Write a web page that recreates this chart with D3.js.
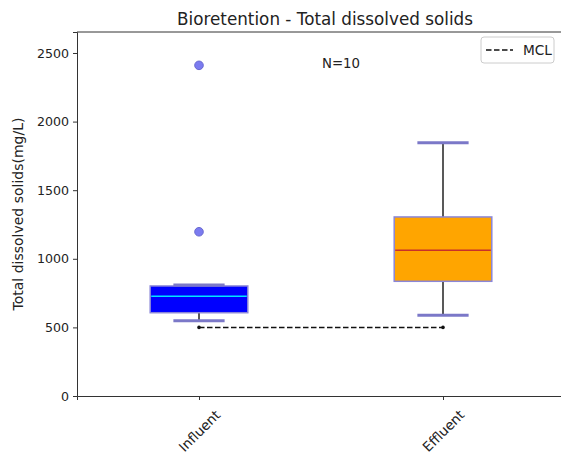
<!DOCTYPE html>
<html>
<head>
<meta charset="utf-8">
<script src="https://cdn.jsdelivr.net/npm/d3@7"></script>
<style>
  body { margin: 0; background: #fff; }
  text { font-family: "DejaVu Sans", sans-serif; fill: #222; }
</style>
</head>
<body>
<div id="chart"></div>
<script>
// data
const categories = ["Influent", "Effluent"];
const whiskerLow = [549, 588];
const q1 = [607, 836];
const median = [727, 1062];
const q3 = [802, 1305];
const whiskerHigh = [809, 1846];
const outliers = [[2410, 1197], []];
const mcl = 500;
const yTicks = [0, 500, 1000, 1500, 2000, 2500];
const boxFill = ["#0000ff", "#ffa500"];
const medianColor = ["#00e5ff", "#c8302a"];

const W = 561, H = 455;
const margin = { top: 32, right: -4, bottom: 59, left: 77 };
const width = W - margin.left - margin.right;
const height = H - margin.top - margin.bottom;

const svg = d3.select("#chart").append("svg")
    .attr("width", W)
    .attr("height", H);

const g = svg.append("g")
    .attr("transform", `translate(${margin.left},${margin.top})`);

const x = d3.scaleLinear().domain([0.5, 2.5]).range([0, width]);
const y = d3.scaleLinear().domain([0, 2653]).range([height, 0]);

const boxW = x(1.2) - x(0.8);
const capW = x(1.105) - x(0.895);
const edge = "#8a86d8";
const capColor = "#7b78c8";

// axes
const yAxis = g.append("g")
    .call(d3.axisLeft(y).tickValues(yTicks).tickFormat(d3.format("d")).tickSize(4).tickPadding(4));
yAxis.selectAll("text").style("font-size", "12.6px").attr("fill", "#222");
yAxis.select(".domain").attr("stroke", "#333");
yAxis.selectAll(".tick line").attr("stroke", "#333");

const xAxis = g.append("g")
    .attr("transform", `translate(0,${height})`)
    .call(d3.axisBottom(x).tickValues([1, 2]).tickFormat(d => categories[d - 1]).tickSize(4).tickPadding(4));
xAxis.select(".domain").attr("stroke", "#333");
xAxis.selectAll(".tick line").attr("stroke", "#333");
// rotated labels, centred under the tick like matplotlib's rotation=45
xAxis.selectAll("text")
    .style("font-size", "13.5px")
    .attr("fill", "#222")
    .attr("text-anchor", "middle")
    .attr("y", 0)
    .attr("dy", "0.35em")
    .attr("transform", "translate(0,35) rotate(-45)");

// top spine
g.append("line")
    .attr("x1", 0).attr("x2", width)
    .attr("y1", 0).attr("y2", 0)
    .attr("stroke", "#333");

// boxes
categories.forEach((c, i) => {
    const cx = x(i + 1);
    // whiskers
    g.append("line")
        .attr("x1", cx).attr("x2", cx)
        .attr("y1", y(q3[i])).attr("y2", y(whiskerHigh[i]))
        .attr("stroke", "#222").attr("stroke-width", 1.5);
    g.append("line")
        .attr("x1", cx).attr("x2", cx)
        .attr("y1", y(q1[i])).attr("y2", y(whiskerLow[i]))
        .attr("stroke", "#222").attr("stroke-width", 1.5);
    // box
    g.append("rect")
        .attr("x", cx - boxW / 2)
        .attr("y", y(q3[i]))
        .attr("width", boxW)
        .attr("height", y(q1[i]) - y(q3[i]))
        .attr("fill", boxFill[i])
        .attr("stroke", edge)
        .attr("stroke-width", 1.5);
    // caps
    [whiskerLow[i], whiskerHigh[i]].forEach(v => {
        g.append("line")
            .attr("x1", cx - capW / 2).attr("x2", cx + capW / 2)
            .attr("y1", y(v)).attr("y2", y(v))
            .attr("stroke", capColor).attr("stroke-width", 3);
    });
    // median
    g.append("line")
        .attr("x1", cx - boxW / 2 + 1).attr("x2", cx + boxW / 2 - 1)
        .attr("y1", y(median[i])).attr("y2", y(median[i]))
        .attr("stroke", medianColor[i]).attr("stroke-width", 1.5);
    // outliers
    g.selectAll(null)
        .data(outliers[i])
        .enter().append("circle")
        .attr("cx", cx)
        .attr("cy", d => y(d))
        .attr("r", 4.3)
        .attr("fill", "#7b7bf0")
        .attr("stroke", "#6a6ad0")
        .attr("stroke-width", 1);
});

// MCL line
g.append("line")
    .attr("x1", x(1)).attr("x2", x(2))
    .attr("y1", y(mcl)).attr("y2", y(mcl))
    .attr("stroke", "#111").attr("stroke-width", 1.5)
    .attr("stroke-dasharray", "5.5,2.5");
[1, 2].forEach(k => {
    g.append("circle")
        .attr("cx", x(k)).attr("cy", y(mcl))
        .attr("r", 1.8).attr("fill", "#111");
});

// N label
g.append("text")
    .attr("x", 341 - margin.left)
    .attr("y", 68 - margin.top)
    .attr("text-anchor", "middle")
    .style("font-size", "13.3px")
    .text("N=10");

// title
svg.append("text")
    .attr("x", 325)
    .attr("y", 25)
    .attr("text-anchor", "middle")
    .style("font-size", "16.8px")
    .text("Bioretention - Total dissolved solids");

// y label
svg.append("text")
    .attr("transform", `translate(23,${margin.top + height / 2}) rotate(-90)`)
    .attr("text-anchor", "middle")
    .style("font-size", "14px")
    .text("Total dissolved solids(mg/L)");

// legend
const leg = svg.append("g").attr("transform", "translate(481,37)");
leg.append("rect")
    .attr("width", 73).attr("height", 26)
    .attr("rx", 3)
    .attr("fill", "#fff")
    .attr("stroke", "#ccc");
leg.append("line")
    .attr("x1", 5).attr("x2", 32)
    .attr("y1", 13).attr("y2", 13)
    .attr("stroke", "#111").attr("stroke-width", 1.5)
    .attr("stroke-dasharray", "5.5,2.5");
leg.append("text")
    .attr("x", 42).attr("y", 18)
    .style("font-size", "13.7px")
    .text("MCL");
</script>
</body>
</html>
